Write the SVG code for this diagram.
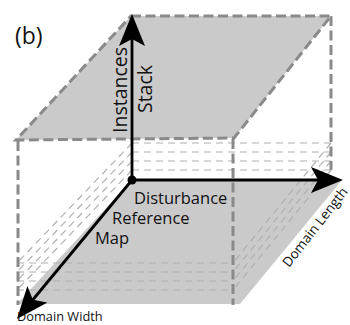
<svg xmlns="http://www.w3.org/2000/svg" width="350" height="325" viewBox="0 0 350 325">
  <style>
    .plane { fill: #cacaca; }
    .edge { fill: none; stroke: #8a8a8a; stroke-width: 3; stroke-dasharray: 10 4.5; }
    .layer { fill: none; stroke: #b0b0b0; stroke-width: 1.2; stroke-dasharray: 7 5; }
    .axis { fill: none; stroke: #000; stroke-width: 2.8; }
    .lbl { font-family: "Open Sans", "Liberation Sans", sans-serif; fill: #111; }
  </style>
  <defs>
    <marker id="head" viewBox="0 0 32 26" refX="10" refY="13" markerWidth="32" markerHeight="26" markerUnits="userSpaceOnUse" orient="auto">
      <path d="M0,0 L32,13 L0,26 L7,13 Z" fill="#000"/>
    </marker>
    <!-- one slice of the stack: back edge, front edge and the two side edges -->
    <path id="slice" d="M132,0 H331 M17,120 H233 M132,0 L17,120 M331,0 L233,120"/>
  </defs>

  <rect width="350" height="325" fill="#fff"/>

  <!-- bottom reference plane -->
  <g id="bottom-plane">
    <polygon class="plane" points="132,180 342,180 240,304 17,304"/>
  </g>

  <!-- intermediate stacked slices -->
  <g id="slices" class="layer">
    <use href="#slice" y="143"/>
    <use href="#slice" y="152"/>
    <use href="#slice" y="161"/>
    <use href="#slice" y="170"/>
  </g>

  <!-- box outline -->
  <g id="box-edges" class="edge">
    <line x1="18" y1="141" x2="18" y2="305"/>
    <line x1="233" y1="139" x2="233" y2="305"/>
    <line x1="331" y1="16" x2="331" y2="170"/>
  </g>

  <!-- top plane -->
  <g id="top-plane">
    <polygon class="plane" points="131,16 331,16 234,138 16,140"/>
    <polygon class="edge" points="131,16 331,16 234,138 16,140"/>
  </g>

  <!-- coordinate axes -->
  <g id="connectors">
    <line class="axis" x1="132" y1="180" x2="132" y2="36" marker-end="url(#head)"/>
    <line class="axis" x1="132" y1="180" x2="321" y2="180" marker-end="url(#head)"/>
    <line class="axis" x1="132" y1="180" x2="31" y2="302" marker-end="url(#head)"/>
  </g>

  <g id="origin">
    <circle cx="132" cy="180" r="4.5" fill="#000"/>
  </g>

  <!-- labels -->
  <g id="labels" class="lbl">
    <text x="15" y="44" font-size="23">(b)</text>
    <text transform="translate(127,90) rotate(-90)" text-anchor="middle" font-size="19.5">Instances</text>
    <text transform="translate(152,89) rotate(-90)" text-anchor="middle" font-size="19.5">Stack</text>
    <text x="134" y="204" font-size="16.5">Disturbance</text>
    <text x="112" y="224" font-size="16.5">Reference</text>
    <text x="95" y="244" font-size="16.5">Map</text>
    <text x="17" y="321" font-size="12.8">Domain Width</text>
    <text transform="translate(289,268) rotate(-52)" font-size="13.5">Domain Length</text>
  </g>
</svg>
